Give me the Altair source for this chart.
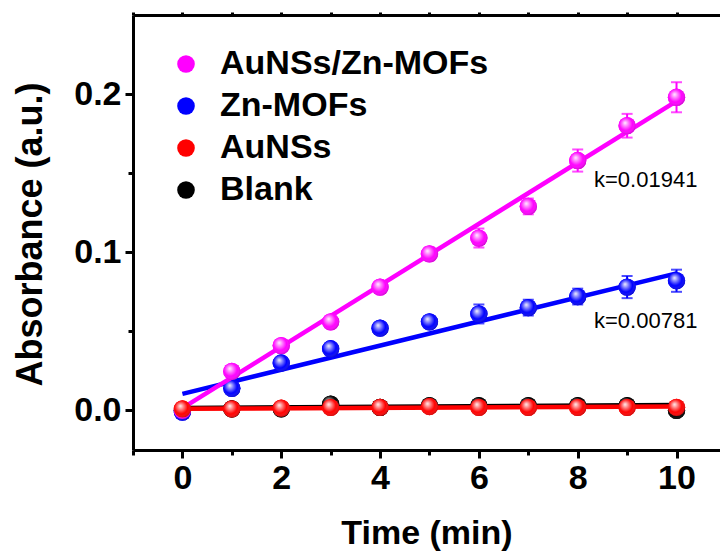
import altair as alt
import pandas as pd

# ---------------- data ----------------
time = [0, 1, 2, 3, 4, 5, 6, 7, 8, 9, 10]
series_names = ["AuNSs/Zn-MOFs", "Zn-MOFs", "AuNSs", "Blank"]
colors = ["#ff00ff", "#0000ff", "#ff0000", "#000000"]

au_zn = [0.000, 0.0247, 0.041, 0.056, 0.078, 0.099, 0.109, 0.129, 0.158, 0.180, 0.198]
au_zn_err = [0.002, 0.002, 0.002, 0.002, 0.003, 0.004, 0.006, 0.005, 0.007, 0.0075, 0.0095]
zn = [-0.001, 0.014, 0.030, 0.039, 0.052, 0.056, 0.061, 0.065, 0.072, 0.078, 0.082]
zn_err = [0.002, 0.002, 0.002, 0.002, 0.002, 0.002, 0.006, 0.005, 0.005, 0.007, 0.007]
au = [0.001, 0.001, 0.0015, 0.002, 0.002, 0.0025, 0.002, 0.002, 0.002, 0.002, 0.002]
au_err = [0.002] * 11
blank = [0.000, 0.001, 0.001, 0.004, 0.002, 0.003, 0.003, 0.003, 0.003, 0.003, 0.000]
blank_err = [0.002] * 11

fit_x = [0, 10]
fit_start = [0.0015, 0.0105, 0.0010, 0.0015]
fit_end = [0.1956, 0.0867, 0.0025, 0.0035]

k_labels = ["k=0.01941", "k=0.00781"]
k_x = [8.33, 8.33]
k_y = [0.1456, 0.0563]

x_ticks = [-1, 0, 1, 2, 3, 4, 5, 6, 7, 8, 9, 10]
y_ticks = [0.0, 0.05, 0.1, 0.15, 0.2]

# ---------------- tables ----------------
vals = [au_zn, zn, au, blank]
errs = [au_zn_err, zn_err, au_err, blank_err]
rows = []
for name, v, e in zip(series_names, vals, errs):
    for t, yv, ev in zip(time, v, e):
        rows.append({"time": t, "abs": yv, "lo": yv - ev, "hi": yv + ev, "series": name})
df = pd.DataFrame(rows)

fit_rows = []
for name, s, en in zip(series_names, fit_start, fit_end):
    fit_rows.append({"time": fit_x[0], "abs": s, "series": name})
    fit_rows.append({"time": fit_x[1], "abs": en, "series": name})
fit_df = pd.DataFrame(fit_rows)

ann_df = pd.DataFrame({"x": k_x, "y": k_y, "text": k_labels})

FONT = "Liberation Sans"
xscale = alt.Scale(domain=[-1, 10.88], nice=False, zero=False)
yscale = alt.Scale(domain=[-0.025, 0.25], nice=False, zero=False)

bottom_axis = alt.Axis(
    orient="bottom", values=x_ticks, title="Time (min)",
    labelExpr="(datum.value % 2 === 0 && datum.value >= 0) ? datum.label : ''",
    tickSize={"condition": {"test": "datum.value % 2 === 0", "value": 8}, "value": 5},
    tickWidth=3, domainWidth=3, tickColor="black", domainColor="black",
    labelFont=FONT, labelFontSize=34, labelFontWeight="bold", labelColor="black",
    labelPadding=3, titleFont=FONT, titleFontSize=34, titleFontWeight="bold",
    titleColor="black", titleBaseline="middle", titleY=83, grid=False,
)
left_axis = alt.Axis(
    orient="left", values=y_ticks, title="Absorbance (a.u.)", format=".1f",
    labelExpr="(round(datum.value * 100) % 10 === 0) ? datum.label : ''",
    tickSize={"condition": {"test": "round(datum.value * 100) % 10 === 0", "value": 8}, "value": 5},
    tickWidth=3, domainWidth=3, tickColor="black", domainColor="black",
    labelFont=FONT, labelFontSize=34, labelFontWeight="bold", labelColor="black",
    labelPadding=4, titleFont=FONT, titleFontSize=36, titleFontWeight="bold",
    titleColor="black", titleBaseline="middle", titleX=-103, titleY=219, grid=False,
    titleLimit=600,
)
top_axis = alt.Axis(
    orient="top", values=x_ticks, labels=False, title=None, tickSize=3,
    tickWidth=3, domainWidth=3, tickColor="black", domainColor="black", grid=False,
)

color_enc = alt.Color(
    "series:N",
    scale=alt.Scale(domain=series_names, range=colors),
    sort=series_names,
    legend=alt.Legend(
        orient="none", legendX=36, legendY=32, title=None,
        symbolType="circle", symbolSize=310, symbolStrokeWidth=0,
        labelFont=FONT, labelFontSize=34, labelFontWeight="bold", labelColor="black",
        labelLimit=500, labelOffset=17, rowPadding=8, padding=0,
    ),
)

sphere = alt.RadialGradient(
    gradient="radial",
    stops=[
        alt.GradientStop(color="rgba(255,255,255,0.95)", offset=0),
        alt.GradientStop(color="rgba(255,255,255,0.5)", offset=0.28),
        alt.GradientStop(color="rgba(255,255,255,0)", offset=0.62),
        alt.GradientStop(color="rgba(0,0,0,0.3)", offset=1),
    ],
    x1=0.38, y1=0.33, r1=0, x2=0.45, y2=0.45, r2=0.62,
)

PT_SIZE = 300

# base layer: all points (provides axes + legend), covered later
base = alt.Chart(df).mark_point(filled=True, size=PT_SIZE, opacity=1, strokeWidth=0).encode(
    x=alt.X("time:Q", scale=xscale, axis=bottom_axis),
    y=alt.Y("abs:Q", scale=yscale, axis=left_axis),
    color=color_enc,
)

layers = [base]
draw_order = [3, 1, 0, 2]
for i in draw_order:
    name, col = series_names[i], colors[i]
    sdf = df[df.series == name]
    fdf = fit_df[fit_df.series == name]
    line = alt.Chart(fdf).mark_line(color=col, strokeWidth=4.5, clip=True).encode(
        x=alt.X("time:Q", scale=xscale, axis=None),
        y=alt.Y("abs:Q", scale=yscale, axis=None),
    )
    rule = alt.Chart(sdf).mark_rule(color=col, strokeWidth=2).encode(
        x=alt.X("time:Q", scale=xscale, axis=None),
        y=alt.Y("lo:Q", scale=yscale, axis=None),
        y2="hi:Q",
    )
    cap_lo = alt.Chart(sdf).mark_tick(color=col, orient="horizontal", size=11, thickness=2).encode(
        x=alt.X("time:Q", scale=xscale, axis=None),
        y=alt.Y("lo:Q", scale=yscale, axis=None),
    )
    cap_hi = alt.Chart(sdf).mark_tick(color=col, orient="horizontal", size=11, thickness=2).encode(
        x=alt.X("time:Q", scale=xscale, axis=None),
        y=alt.Y("hi:Q", scale=yscale, axis=None),
    )
    pts = alt.Chart(sdf).mark_point(filled=True, size=PT_SIZE, color=col, opacity=1, strokeWidth=0).encode(
        x=alt.X("time:Q", scale=xscale, axis=None),
        y=alt.Y("abs:Q", scale=yscale, axis=None),
    )
    hl = alt.Chart(sdf).mark_point(filled=True, size=PT_SIZE, fill=sphere, opacity=1, strokeWidth=0).encode(
        x=alt.X("time:Q", scale=xscale, axis=None),
        y=alt.Y("abs:Q", scale=yscale, axis=None),
    )
    layers += [line, rule, cap_lo, cap_hi, pts, hl]

ann = alt.Chart(ann_df).mark_text(
    align="left", baseline="middle", font=FONT, fontSize=22, color="black"
).encode(
    x=alt.X("x:Q", scale=xscale, axis=top_axis),
    y=alt.Y("y:Q", scale=yscale, axis=None),
    text="text:N",
)
layers.append(ann)

chart = alt.layer(*layers).resolve_axis(x="independent", y="independent").properties(
    width=587, height=435,
    autosize=alt.AutoSizeParams(type="none"),
    padding={"left": 133, "top": 15, "right": 0, "bottom": 105},
    background="white",
).configure_view(stroke=None)

chart.save("out.html", embed_options={"renderer": "svg", "actions": False})
